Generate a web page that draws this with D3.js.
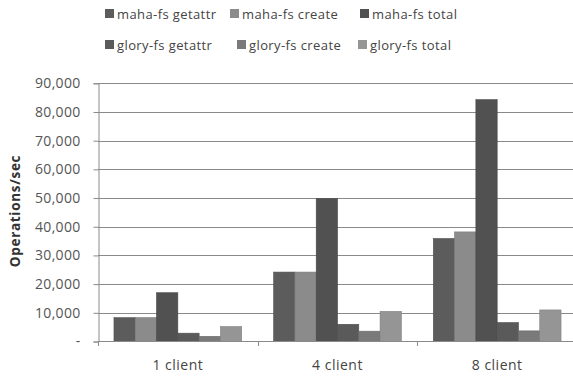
<!DOCTYPE html>
<html><head><meta charset="utf-8">
<script src="https://cdn.jsdelivr.net/npm/d3@7"></script>
<style>body{margin:0;background:#fff;}svg{display:block;}</style>
</head><body>
<svg id="c" width="573" height="380"></svg>
<script>
const categories = ["1 client", "4 client", "8 client"];
const seriesNames = ["maha-fs getattr","maha-fs create","maha-fs total","glory-fs getattr","glory-fs create","glory-fs total"];
const mahaGetattr = [8300, 24200, 35900];
const mahaCreate = [8300, 24200, 38200];
const mahaTotal = [17000, 49800, 84300];
const gloryGetattr = [2900, 6000, 6600];
const gloryCreate = [1800, 3600, 3700];
const gloryTotal = [5200, 10500, 11000];
const yTicks = [0,10000,20000,30000,40000,50000,60000,70000,80000,90000];
const colors = ["#5c5c5c","#8b8b8b","#515151","#5a5a5a","#7a7a7a","#959595"];

const series = [mahaGetattr, mahaCreate, mahaTotal, gloryGetattr, gloryCreate, gloryTotal];
const svg = d3.select("#c");
const FONT = "Open Sans, sans-serif";
const x = d3.scaleBand().domain(categories).range([98, 577]);
const y = d3.scaleLinear().domain([0, 90000]).range([341.5, 83.3]);
const inner = d3.scaleBand().domain(d3.range(6)).range([0, x.bandwidth()]).paddingOuter(0.75).paddingInner(0);

// gridlines
svg.append("g").selectAll("line").data(yTicks.slice(1)).join("line")
  .attr("x1", 98).attr("x2", 577)
  .attr("y1", d => Math.round(y(d))+0.5).attr("y2", d => Math.round(y(d))+0.5)
  .attr("stroke", "#8a8a8a").attr("stroke-width", 1);

// bars
const g = svg.append("g");
categories.forEach((c, ci) => {
  series.forEach((s, si) => {
    g.append("rect")
      .attr("x", x(c) + inner(si))
      .attr("y", y(s[ci]))
      .attr("width", inner.bandwidth())
      .attr("height", y(0) - y(s[ci]))
      .attr("fill", colors[si])
      .attr("stroke", d3.color(colors[si]).darker(0.4))
      .attr("stroke-width", 0.6);
  });
});

// y axis
const yAxis = d3.axisLeft(y).tickValues(yTicks).tickSize(5)
  .tickFormat(d => d === 0 ? "-" : d3.format(",")(d)).tickPadding(13);
const ya = svg.append("g").attr("transform", "translate(98.5,0)").call(yAxis);
ya.select(".domain").attr("stroke", "#8a8a8a");
ya.selectAll(".tick line").attr("stroke", "#8a8a8a");
ya.selectAll(".tick text").attr("font-family", FONT).attr("font-size", 14)
  .attr("letter-spacing", 0.3).attr("fill", "#555");

// x axis
svg.append("line").attr("x1", 98).attr("x2", 577).attr("y1", 341.5).attr("y2", 341.5).attr("stroke", "#8a8a8a");
const bounds = [0,1,2,3].map(i => 98 + i * x.step());
svg.append("g").selectAll("line").data(bounds).join("line")
  .attr("x1", d => Math.round(d)+0.5).attr("x2", d => Math.round(d)+0.5)
  .attr("y1", 341.5).attr("y2", 346).attr("stroke", "#8a8a8a");
svg.append("g").selectAll("text").data(categories).join("text")
  .attr("x", d => x(d) + x.bandwidth()/2).attr("y", 370)
  .attr("text-anchor", "middle").attr("font-family", FONT)
  .attr("font-size", 14).attr("letter-spacing", 0.5).attr("fill", "#444").text(d => d);

// y label
svg.append("text").attr("transform", "translate(20,211) rotate(-90)")
  .attr("text-anchor", "middle").attr("font-family", FONT)
  .attr("font-weight", "bold").attr("font-size", 13.5).attr("letter-spacing", 0.7).attr("fill", "#333")
  .text("Operations/sec");

// legend
const legPos = [[105,14],[230,14],[360,14],[105,45],[237,45],[358,45]];
const lg = svg.append("g");
seriesNames.forEach((n, i) => {
  const [lx, ly] = legPos[i];
  lg.append("rect").attr("x", lx).attr("y", ly - 5).attr("width", 9).attr("height", 9).attr("fill", colors[i]);
  lg.append("text").attr("x", lx + 12).attr("y", ly).attr("dy", "0.35em")
    .attr("font-family", FONT).attr("font-size", 13).attr("letter-spacing", 0.4).attr("fill", "#444")
    .text(n);
});
</script>
</body></html>
